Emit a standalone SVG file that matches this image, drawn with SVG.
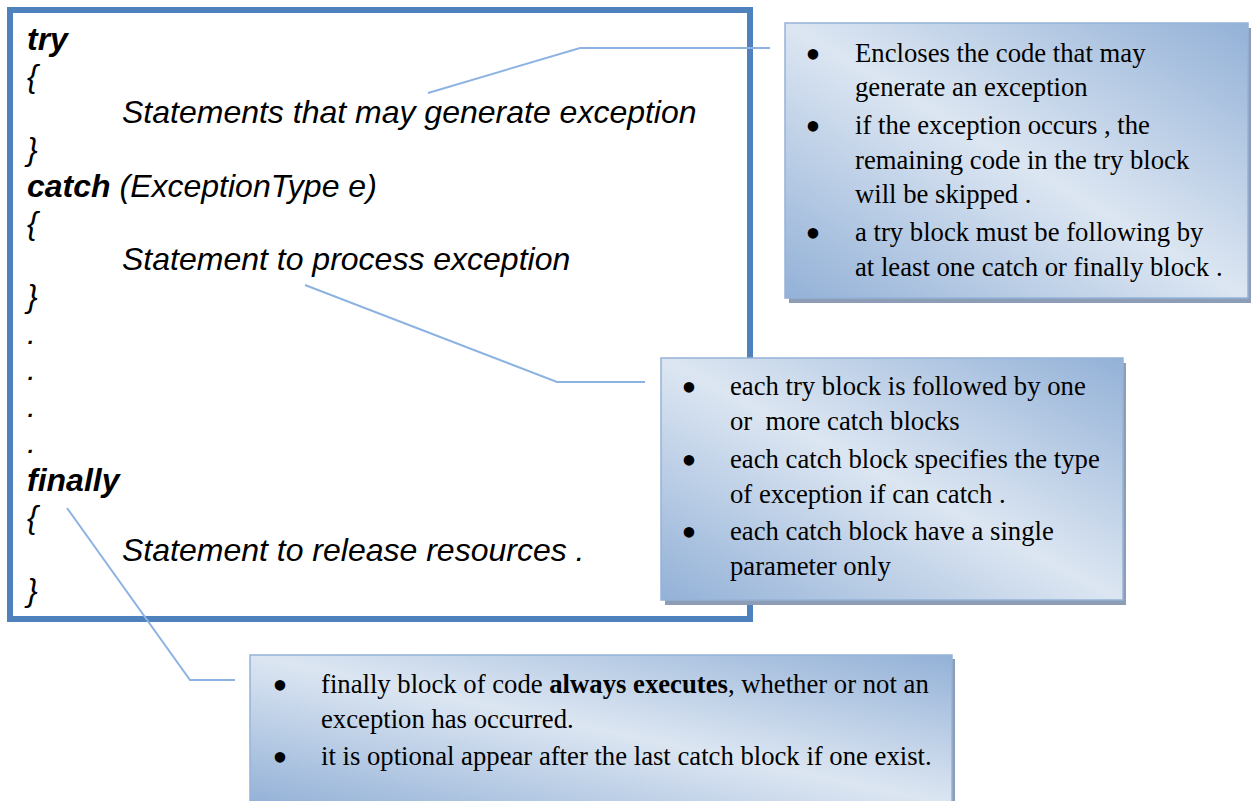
<svg xmlns="http://www.w3.org/2000/svg" width="1256" height="801" viewBox="0 0 1256 801">
<defs>
<linearGradient id="g" x1="1" y1="0" x2="0" y2="1">
<stop offset="0" stop-color="#93b1d7"/>
<stop offset="0.5" stop-color="#dce6f2"/>
<stop offset="1" stop-color="#93b1d7"/>
</linearGradient>
<style>
.code{font-family:"Liberation Sans",Arial,sans-serif;font-size:32px;font-style:italic;fill:#000}
.kw{font-weight:bold}
.note{font-family:"Liberation Serif","Times New Roman",serif;font-size:26.7px;fill:#000;white-space:pre}
.bul{font-family:"Liberation Serif","Times New Roman",serif;font-size:44px;fill:#000;text-anchor:middle}
.box{fill:url(#g);stroke:#95b3d7;stroke-width:1.5}
.shadow{fill:#8d9db5}
.conn{fill:none;stroke:#8db3e2;stroke-width:2}
.frame{fill:none;stroke:#4f81bd;stroke-width:6}
</style>
</defs>
<rect width="1256" height="801" fill="#fff"/>
<g id="code-block">
<rect x="10" y="10" width="740" height="609" fill="#fff"/>
<text class="code kw" x="27" y="50">try</text>
<text class="code" x="27" y="87">{</text>
<text class="code" x="122" y="123">Statements that may generate exception</text>
<text class="code" x="27" y="160">}</text>
<text class="code" x="27" y="197"><tspan class="kw">catch</tspan> (ExceptionType e)</text>
<text class="code" x="27" y="234">{</text>
<text class="code" x="122" y="270">Statement to process exception</text>
<text class="code" x="27" y="307">}</text>
<text class="code" x="27" y="344">.</text>
<text class="code" x="27" y="380">.</text>
<text class="code" x="27" y="417">.</text>
<text class="code" x="27" y="453">.</text>
<text class="code kw" x="27" y="491">finally</text>
<text class="code" x="27" y="528">{</text>
<text class="code" x="122" y="561">Statement to release resources .</text>
<text class="code" x="27" y="601">}</text>
<rect class="frame" x="10" y="10" width="740" height="609"/>
</g>
<g id="connectors">
<polyline class="conn" points="428,93 580,48 770,48"/>
<polyline class="conn" points="305,285 557,382 645,382"/>
<polyline class="conn" points="67,508 190,680 235,680"/>
</g>
<g id="note-try">
<rect class="shadow" x="789" y="28" width="462" height="275"/>
<rect class="box" x="785" y="23" width="463" height="275"/>
<text class="bul" x="813" y="69">•</text>
<text class="note" x="855" y="62">Encloses the code that may</text>
<text class="note" x="855" y="96">generate an exception</text>
<text class="bul" x="813" y="141">•</text>
<text class="note" x="855" y="134">if the exception occurs , the</text>
<text class="note" x="855" y="169">remaining code in the try block</text>
<text class="note" x="855" y="203">will be skipped .</text>
<text class="bul" x="813" y="248">•</text>
<text class="note" x="855" y="241">a try block must be following by</text>
<text class="note" x="855" y="276">at least one catch or finally block .</text>
</g>
<g id="note-catch">
<rect class="shadow" x="665" y="363" width="461" height="242"/>
<rect class="box" x="661" y="358" width="462" height="242"/>
<text class="bul" x="689" y="402">•</text>
<text class="note" x="730" y="395">each try block is followed by one</text>
<text class="note" x="730" y="430">or  more catch blocks</text>
<text class="bul" x="689" y="475">•</text>
<text class="note" x="730" y="468">each catch block specifies the type</text>
<text class="note" x="730" y="503">of exception if can catch .</text>
<text class="bul" x="689" y="547">•</text>
<text class="note" x="730" y="540">each catch block have a single</text>
<text class="note" x="730" y="575">parameter only</text>
</g>
<g id="note-finally">
<rect class="shadow" x="254" y="659" width="701" height="150"/>
<rect class="box" x="250" y="655" width="702" height="150"/>
<text class="bul" x="280" y="700">•</text>
<text class="note" x="321" y="693">finally block of code <tspan font-weight="bold">always executes</tspan>, whether or not an</text>
<text class="note" x="321" y="728">exception has occurred.</text>
<text class="bul" x="280" y="772">•</text>
<text class="note" x="321" y="765">it is optional appear after the last catch block if one exist.</text>
</g>
</svg>
